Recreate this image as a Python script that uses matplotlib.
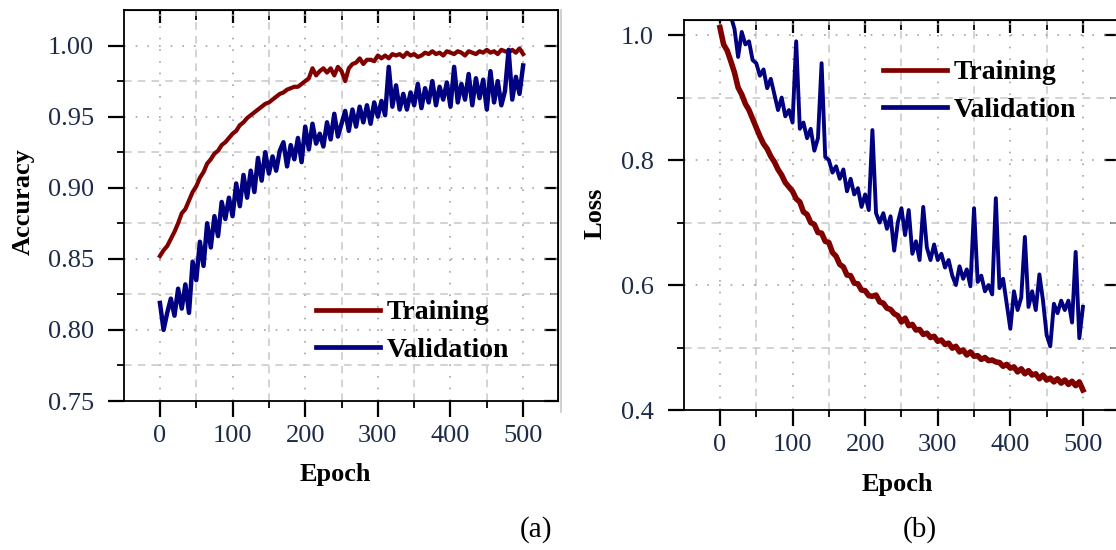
import matplotlib
matplotlib.use("Agg")
import matplotlib.pyplot as plt
import numpy as np
from matplotlib.lines import Line2D

# values, one every 5 epochs (0..500)
epochs = np.arange(0, 501, 5)

train_acc = [
    0.852, 0.856, 0.859, 0.864, 0.869, 0.875, 0.882, 0.885, 0.891, 0.897,   # 0-45
    0.901, 0.907, 0.911, 0.917, 0.920, 0.924, 0.926, 0.930, 0.932, 0.935,   # 50-95
    0.938, 0.940, 0.944, 0.946, 0.949, 0.951, 0.953, 0.955, 0.957, 0.959,   # 100-145
    0.960, 0.962, 0.964, 0.966, 0.967, 0.969, 0.970, 0.971, 0.971, 0.973,   # 150-195
    0.975, 0.977, 0.984, 0.979, 0.982, 0.984, 0.981, 0.984, 0.979, 0.985,   # 200-245
    0.982, 0.975, 0.984, 0.987, 0.988, 0.991, 0.987, 0.990, 0.990, 0.989,   # 250-295
    0.993, 0.991, 0.993, 0.991, 0.994, 0.993, 0.994, 0.992, 0.995, 0.993,   # 300-345
    0.994, 0.992, 0.993, 0.995, 0.994, 0.996, 0.994, 0.995, 0.993, 0.996,   # 350-395
    0.995, 0.994, 0.996, 0.995, 0.993, 0.996, 0.995, 0.994, 0.996, 0.995,   # 400-445
    0.997, 0.995, 0.996, 0.994, 0.997, 0.996, 0.995, 0.997, 0.995, 0.998,   # 450-495
    0.994]

val_acc = [
    0.819, 0.800, 0.812, 0.822, 0.810, 0.829, 0.815, 0.832, 0.812, 0.848,
    0.835, 0.862, 0.845, 0.875, 0.858, 0.880, 0.866, 0.890, 0.878, 0.893,
    0.880, 0.903, 0.887, 0.909, 0.893, 0.912, 0.897, 0.921, 0.905, 0.925,
    0.910, 0.922, 0.912, 0.926, 0.932, 0.915, 0.930, 0.920, 0.935, 0.918,
    0.943, 0.927, 0.945, 0.931, 0.938, 0.929, 0.946, 0.934, 0.952, 0.936,
    0.945, 0.954, 0.940, 0.955, 0.943, 0.957, 0.946, 0.958, 0.945, 0.960,
    0.950, 0.961, 0.951, 0.985, 0.957, 0.972, 0.955, 0.966, 0.955, 0.967,
    0.958, 0.973, 0.956, 0.970, 0.960, 0.975, 0.958, 0.971, 0.962, 0.974,
    0.957, 0.985, 0.960, 0.973, 0.962, 0.980, 0.958, 0.977, 0.963, 0.976,
    0.955, 0.982, 0.960, 0.975, 0.958, 0.968, 0.997, 0.962, 0.978, 0.966,
    0.986]

train_loss = [
    1.012, 0.985, 0.975, 0.958, 0.940, 0.916, 0.905, 0.890, 0.880, 0.866,
    0.852, 0.838, 0.826, 0.818, 0.806, 0.797, 0.785, 0.776, 0.764, 0.757,
    0.750, 0.738, 0.733, 0.717, 0.713, 0.700, 0.697, 0.684, 0.683, 0.670,
    0.668, 0.652, 0.646, 0.633, 0.629, 0.616, 0.615, 0.603, 0.602, 0.592,
    0.591, 0.583, 0.582, 0.584, 0.573, 0.571, 0.563, 0.561, 0.554, 0.551,
    0.541, 0.547, 0.535, 0.537, 0.528, 0.529, 0.521, 0.523, 0.516, 0.518,
    0.510, 0.512, 0.505, 0.507, 0.499, 0.502, 0.493, 0.496, 0.488, 0.493,
    0.486, 0.487, 0.481, 0.484, 0.479, 0.480, 0.477, 0.476, 0.470, 0.473,
    0.467, 0.469, 0.461, 0.466, 0.458, 0.463, 0.456, 0.458, 0.450, 0.456,
    0.448, 0.451, 0.445, 0.450, 0.443, 0.448, 0.441, 0.446, 0.439, 0.445,
    0.432]

val_loss = [
    1.080, 1.060, 1.040, 1.030, 1.010, 0.965, 1.005, 0.985, 0.990, 0.960,
    0.955, 0.935, 0.945, 0.915, 0.930, 0.905, 0.880, 0.900, 0.870, 0.880,
    0.860, 0.990, 0.850, 0.860, 0.835, 0.850, 0.815, 0.835, 0.955, 0.805,
    0.800, 0.780, 0.790, 0.770, 0.785, 0.750, 0.770, 0.745, 0.755, 0.725,
    0.745, 0.720, 0.848, 0.715, 0.700, 0.715, 0.690, 0.710, 0.655, 0.700,
    0.723, 0.680, 0.720, 0.650, 0.670, 0.640, 0.725, 0.660, 0.640, 0.665,
    0.640, 0.650, 0.628, 0.640, 0.615, 0.600, 0.630, 0.610, 0.625, 0.598,
    0.723, 0.605, 0.615, 0.590, 0.600, 0.585, 0.739, 0.595, 0.610, 0.570,
    0.530, 0.590, 0.560, 0.580, 0.677, 0.565, 0.590, 0.560, 0.617, 0.575,
    0.520, 0.502, 0.570, 0.555, 0.575, 0.560, 0.575, 0.540, 0.653, 0.515,
    0.565]

red = "#800000"
blue = "#000080"
tick_col = "#1c2b48"

plt.rcParams["font.family"] = ["Liberation Serif", "DejaVu Serif"]

fig = plt.figure(figsize=(11.16, 5.5), dpi=100)
ax1 = fig.add_axes([0.1111, 0.2709, 0.3889, 0.7109])
ax2 = fig.add_axes([0.6126, 0.2545, 0.3890, 0.7090])


def style(ax, ymaj, ymin_, ylim):
    ax.set_xlim(-49.5, 548)
    ax.set_ylim(*ylim)
    xmaj = [0, 100, 200, 300, 400, 500]
    xmin_ = [50, 150, 250, 350, 450]
    ax.set_xticks(xmaj)
    ax.set_xticks(xmin_, minor=True)
    ax.set_yticks(ymaj)
    ax.set_yticks(ymin_, minor=True)
    ax.grid(which="major", color="#a4a4a4", linestyle=(0, (1, 6)), lw=1.2)
    ax.grid(which="minor", color="#c8c8c8", linestyle=(0, (5, 4)), lw=1.1)
    ax.set_axisbelow(True)
    ax.tick_params(which="major", direction="out", length=11.5, width=1.6,
                   labelsize=19, labelcolor=tick_col, top=False, right=False)
    ax.tick_params(axis="y", which="major", pad=10)
    ax.tick_params(axis="x", which="major", pad=6)
    ax.tick_params(which="minor", direction="out", length=5, width=1.3,
                   top=False, right=False)
    for s in ax.spines.values():
        s.set_linewidth(1.3)
    top = ax.secondary_xaxis("top")
    top.set_xticks(xmaj)
    top.set_xticks(xmin_, minor=True)
    top.tick_params(which="major", direction="in", length=9, width=1.6, labeltop=False)
    top.tick_params(which="minor", direction="in", length=7, width=1.3, labeltop=False)
    rgt = ax.secondary_yaxis("right")
    rgt.set_yticks(ymaj)
    rgt.set_yticks(ymin_, minor=True)
    rgt.tick_params(which="major", direction="in", length=10, width=1.6, labelright=False)
    rgt.tick_params(which="minor", direction="in", length=6, width=1.3, labelright=False)


legend_kw = dict(loc="upper left", frameon=False,
                 prop={"weight": "bold", "size": 20}, handlelength=2.3,
                 handletextpad=0.25, labelspacing=0.42, borderpad=0,
                 borderaxespad=0)

# (a) accuracy
ax1.plot(epochs, train_acc, color=red, lw=3.0, label="Training")
ax1.plot(epochs, val_acc, color=blue, lw=3.2, label="Validation")
style(ax1, [0.75, 0.80, 0.85, 0.90, 0.95, 1.00],
      [0.775, 0.825, 0.875, 0.925, 0.975], (0.75, 1.025))
ax1.set_yticklabels(["0.75", "0.80", "0.85", "0.90", "0.95", "1.00"])
ax1.set_xlabel("Epoch", fontsize=19, fontweight="bold", va="center")
ax1.xaxis.set_label_coords(0.488, -0.189)
ax1.set_ylabel("Accuracy", fontsize=19, fontweight="bold", va="center")
ax1.yaxis.set_label_coords(-0.233, 0.509)
ax1.legend(bbox_to_anchor=(0.2832, 1 - 300 / 550),
           bbox_transform=fig.transFigure, **legend_kw)
for ln in ax1.get_legend().get_lines():
    ln.set_linewidth(3.4)

# (b) loss
ax2.plot(epochs, train_loss, color=red, lw=4.0, label="Training")
ax2.plot(epochs, val_loss, color=blue, lw=2.8, label="Validation")
style(ax2, [0.4, 0.6, 0.8, 1.0], [0.5, 0.7, 0.9], (0.4, 1.024))
ax2.set_xlim(-50, 548)
ax2.set_yticklabels(["0.4", "0.6", "0.8", "1.0"])
ax2.set_xlabel("Epoch", fontsize=19, fontweight="bold", va="center")
ax2.xaxis.set_label_coords(0.491, -0.192)
ax2.set_ylabel("Loss", fontsize=19, fontweight="bold", va="center")
ax2.yaxis.set_label_coords(-0.204, 0.505)
ax2.legend(bbox_to_anchor=(0.7912, 1 - 60 / 550),
           bbox_transform=fig.transFigure, **legend_kw)
for ln in ax2.get_legend().get_lines():
    ln.set_linewidth(3.4)

# panel captions and the thin border of the second picture
fig.text(536 / 1116, 1 - 530 / 550, "(a)", fontsize=21, ha="center", va="center")
fig.text(920 / 1116, 1 - 530 / 550, "(b)", fontsize=21, ha="center", va="center")
fig.add_artist(Line2D([561 / 1116, 561 / 1116], [1 - 10 / 550, 1 - 412 / 550],
                      transform=fig.transFigure, color="#c8c8c8", lw=1.2))

fig.savefig("out.png", dpi=100)
